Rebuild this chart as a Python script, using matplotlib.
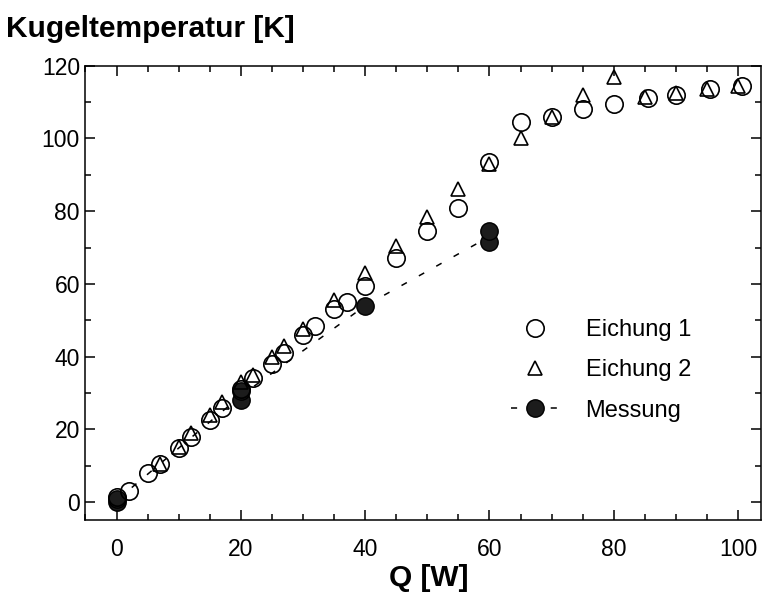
import numpy as np
import pandas as pd
import matplotlib
matplotlib.use("Agg")
import matplotlib.pyplot as plt
from matplotlib.ticker import MultipleLocator

# ── Data ─────────────────────────────────────────────────────────────────────
eich1_q = [0, 2, 5, 7, 10, 12, 15, 17, 20, 22, 25, 27, 30, 32, 35, 37, 40,
           45, 50, 55, 60, 65, 70, 75, 80, 85.5, 90, 95.5, 100.7]
eich1_t = [1.5, 3, 8, 10.5, 15, 18, 22.5, 26, 31, 34, 38, 41, 46, 48.5, 53,
           55, 59.5, 67, 74.5, 81, 93.5, 104.5, 106, 108, 109.5, 111, 112,
           113.5, 114.5]

eich2_q = [7, 10, 12, 15, 17, 20, 22, 25, 27, 30, 35, 40, 45, 50, 55, 60,
           65, 70, 75, 80, 85, 90, 95, 100]
eich2_t = [10.5, 15.3, 19, 24, 27.5, 33, 35, 40, 43, 47.5, 55.5, 63, 70.5,
           78.5, 86, 93, 100, 106, 112, 117, 111.5, 112.5, 113.5, 114.5]

mess_q = [0, 0, 20, 20, 40, 60, 60]
mess_t = [0, 1, 28, 30.5, 54, 71.5, 74.5]

LABELS = ["Eichung 1", "Eichung 2", "Messung"]
FONT = "Liberation Sans"

# ── Plot ─────────────────────────────────────────────────────────────────────
plt.rcParams["font.family"] = [FONT, "DejaVu Sans"]

fig = plt.figure(figsize=(7.62, 6.01), dpi=100)
ax = fig.add_axes([0.1122, 0.1348, 0.8865, 0.7559])

# dashed line through the mean of the measurements
mess = pd.DataFrame({"q": mess_q, "t": mess_t}).groupby("q")["t"].mean()
ax.plot(mess.index, mess.values, color="black", linewidth=1.1,
        dashes=(4, 9), zorder=1)
ax.plot(mess_q, mess_t, linestyle="none", marker="o", markersize=12.5,
        markerfacecolor="#1c1c1c", markeredgecolor="black",
        markeredgewidth=1.0, zorder=2)

ax.plot(eich1_q, eich1_t, linestyle="none", marker="o", markersize=12.5,
        markerfacecolor="none", markeredgecolor="black",
        markeredgewidth=1.2, zorder=3)
ax.plot(eich2_q, eich2_t, linestyle="none", marker="^", markersize=10.5,
        markerfacecolor="none", markeredgecolor="black",
        markeredgewidth=1.2, zorder=4)

# legend handles
h1, = ax.plot([], [], linestyle="none", marker="o", markersize=12.5,
              markerfacecolor="none", markeredgecolor="black",
              markeredgewidth=1.2)
h2, = ax.plot([], [], linestyle="none", marker="^", markersize=10.5,
              markerfacecolor="none", markeredgecolor="black",
              markeredgewidth=1.2)
h3, = ax.plot([], [], color="black", linewidth=1.1, dashes=(4, 9),
              marker="o", markersize=12.5, markerfacecolor="#1c1c1c",
              markeredgecolor="black")

ax.legend([h1, h2, h3], LABELS, loc="center left",
          bbox_to_anchor=(0.643, 0.384), bbox_transform=fig.transFigure,
          frameon=False, fontsize=17, handlelength=2.0,
          handletextpad=1.15, labelspacing=0.78, borderpad=0.4)

# ── Axes ─────────────────────────────────────────────────────────────────────
ax.set_xlim(-5, 103.7)
ax.set_ylim(-4.9, 120)

ax.xaxis.set_major_locator(MultipleLocator(20))
ax.xaxis.set_minor_locator(MultipleLocator(5))
ax.yaxis.set_major_locator(MultipleLocator(20))
ax.yaxis.set_minor_locator(MultipleLocator(10))

ax.tick_params(which="both", direction="in", top=True, right=True,
               width=1.1, colors="black")
ax.tick_params(which="major", length=7)
ax.tick_params(which="minor", length=4)
ax.tick_params(axis="x", which="major", labelsize=16.5, pad=13)
ax.tick_params(axis="y", which="major", labelsize=16.5, pad=4)

for spine in ax.spines.values():
    spine.set_linewidth(1.1)
    spine.set_color("black")

ax.set_xlabel("Q [W]", fontsize=21.5, fontweight="bold")
ax.xaxis.set_label_coords(0.508, -0.097)

fig.text(0.008, 0.9384, "Kugeltemperatur [K]", fontsize=21.5,
         fontweight="bold", ha="left", va="baseline")

fig.savefig("out.png", dpi=100, facecolor="white")
